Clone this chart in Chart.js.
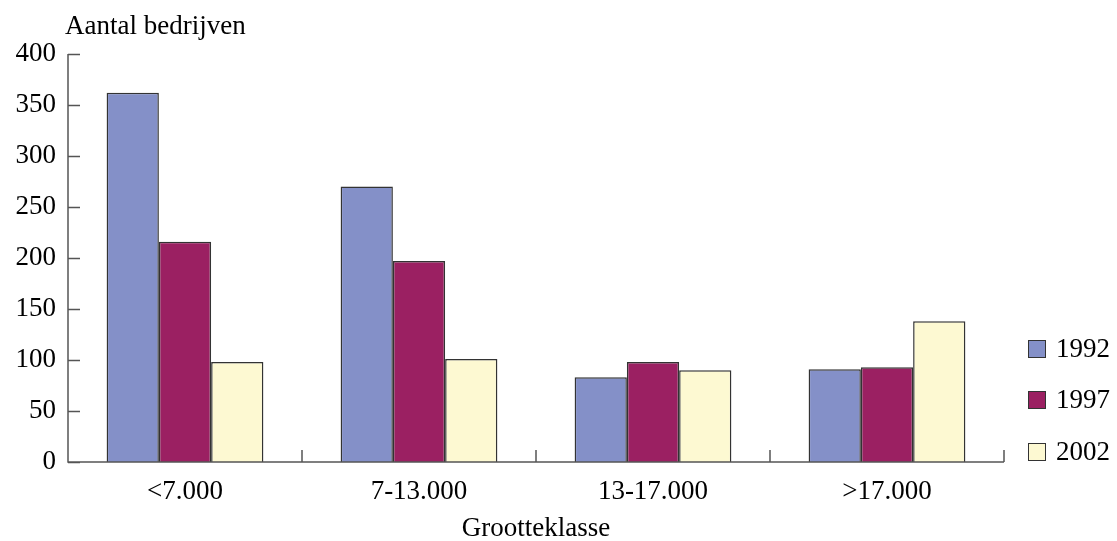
<!DOCTYPE html>
<html lang="nl">
<head>
<meta charset="UTF-8" />
<title>Aantal bedrijven per grootteklasse</title>
<script src="https://cdn.jsdelivr.net/npm/chart.js"></script>
<style>
  html, body { margin: 0; padding: 0; background: #fff; }
  #wrap { width: 1117px; height: 541px; }
</style>
</head>
<body>
<div id="wrap"><canvas id="chart" width="1117" height="541"></canvas></div>
<script>
  // data
  const categories = ['<7.000', '7-13.000', '13-17.000', '>17.000'];
  const years = ['1992', '1997', '2002'];
  const values1992 = [362, 270, 83, 91];
  const values1997 = [216, 197, 98, 93];
  const values2002 = [98, 101, 90, 138];
  const colors = ['#8490c8', '#9b2062', '#fdf9d2'];
  const yTitle = 'Aantal bedrijven';
  const xTitle = 'Grootteklasse';

  const FONT = '"Liberation Serif", "Times New Roman", serif';
  const SIZE = 27;
  const AXIS = '#555';

  // axis lines, inward ticks, titles and legend
  const extras = {
    id: 'extras',
    afterDraw(chart) {
      const ctx = chart.ctx;
      const a = chart.chartArea;
      const x = chart.scales.x, y = chart.scales.y;
      ctx.save();
      ctx.strokeStyle = AXIS;
      ctx.lineWidth = 1.5;
      ctx.beginPath();
      ctx.moveTo(a.left, a.top);
      ctx.lineTo(a.left, a.bottom);
      ctx.lineTo(a.right, a.bottom);
      // y ticks pointing into the plot
      y.ticks.forEach(t => {
        const py = Math.round(y.getPixelForValue(t.value)) + 0.5;
        ctx.moveTo(a.left, py);
        ctx.lineTo(a.left + 12, py);
      });
      // x ticks between categories, pointing up
      const step = x.getPixelForValue(1) - x.getPixelForValue(0);
      for (let i = 0; i < categories.length; i++) {
        const px = x.getPixelForValue(i) + step / 2;
        ctx.moveTo(px, a.bottom);
        ctx.lineTo(px, a.bottom - 12);
      }
      ctx.stroke();

      ctx.fillStyle = '#000';
      ctx.font = SIZE + 'px ' + FONT;
      ctx.textBaseline = 'alphabetic';
      ctx.textAlign = 'left';
      ctx.fillText(yTitle, 65, 34);
      ctx.textAlign = 'center';
      ctx.fillText(xTitle, (a.left + a.right) / 2, 536);

      // legend
      const ys = [349, 400, 452];
      ctx.textAlign = 'left';
      ctx.textBaseline = 'middle';
      chart.data.datasets.forEach((ds, i) => {
        ctx.fillStyle = ds.backgroundColor;
        ctx.fillRect(1028, ys[i] - 9, 18, 18);
        ctx.strokeStyle = '#333';
        ctx.lineWidth = 1;
        ctx.strokeRect(1028.5, ys[i] - 8.5, 17, 17);
        ctx.fillStyle = '#000';
        ctx.fillText(ds.label, 1056, ys[i] + 1);
      });
      ctx.restore();
    }
  };

  const seriesValues = [values1992, values1997, values2002];

  new Chart(document.getElementById('chart'), {
    type: 'bar',
    data: {
      labels: categories,
      datasets: years.map((yr, i) => ({
        label: yr,
        data: seriesValues[i],
        backgroundColor: colors[i],
        borderColor: '#333',
        borderWidth: 1.5,
        categoryPercentage: 0.67,
        barPercentage: 1.0
      }))
    },
    options: {
      responsive: false,
      animation: false,
      layout: { padding: { top: 54, right: 113, left: 0, bottom: 0 } },
      plugins: { legend: { display: false }, tooltip: { enabled: false } },
      scales: {
        x: {
          grid: { display: false, drawTicks: false },
          border: { display: false },
          ticks: { color: '#000', font: { family: FONT, size: SIZE }, padding: 14, maxRotation: 0 },
          afterFit: s => { s.height = 79; }
        },
        y: {
          min: 0,
          max: 400,
          grid: { display: false, drawTicks: false },
          border: { display: false },
          ticks: { stepSize: 50, color: '#000', font: { family: FONT, size: SIZE }, padding: 12 },
          afterFit: s => { s.width = 68; }
        }
      }
    },
    plugins: [extras]
  });
</script>
</body>
</html>
